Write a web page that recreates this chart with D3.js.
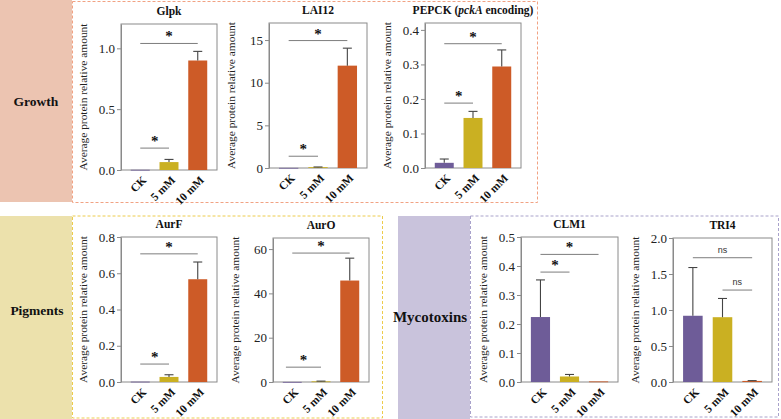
<!DOCTYPE html>
<html>
<head>
<meta charset="utf-8">
<script src="https://cdn.jsdelivr.net/npm/d3@7"></script>
<style>
  body { margin: 0; background: #fff; }
  svg { display: block; }
</style>
</head>
<body>
<div id="chart"></div>
<script>
// ---- data ----
const groups = ["CK", "5 mM", "10 mM"];
const proteins = ["Glpk", "LAI12", "PEPCK (_pckA_ encoding)", "AurF", "AurO", "CLM1", "TRI4"];
const means = [
  [0.002, 0.065, 0.9],
  [0.02, 0.1, 12.0],
  [0.015, 0.145, 0.294],
  [0.002, 0.028, 0.567],
  [0.05, 0.3, 45.8],
  [0.224, 0.019, 0.002],
  [0.92, 0.9, 0.015]
];
const errors = [
  [0, 0.022, 0.075],
  [0, 0.02, 2.05],
  [0.011, 0.019, 0.048],
  [0, 0.012, 0.095],
  [0, 0.1, 10.1],
  [0.128, 0.007, 0],
  [0.67, 0.26, 0.004]
];
const yMax = [1.2, 17, 0.42, 0.8, 65, 0.5, 2.0];
const yTicks = [
  [0, 0.5, 1.0],
  [0, 5, 10, 15],
  [0, 0.1, 0.2, 0.3, 0.4],
  [0, 0.2, 0.4, 0.6, 0.8],
  [0, 20, 40, 60],
  [0, 0.1, 0.2, 0.3, 0.4, 0.5],
  [0, 0.5, 1.0, 1.5, 2.0]
];
const tickFormats = [".1f", "d", ".1f", ".1f", "d", ".1f", ".1f"];
// [from group, to group, height, label]
const brackets = [
  [[0, 1, 0.18, "*"], [0, 2, 1.04, "*"]],
  [[0, 1, 1.38, "*"], [0, 2, 14.94, "*"]],
  [[0, 1, 0.188, "*"], [0, 2, 0.36, "*"]],
  [[0, 1, 0.099, "*"], [0, 2, 0.707, "*"]],
  [[-0.22, 1, 6.7, "*"], [0, 2, 58.2, "*"]],
  [[0, 1, 0.379, "*"], [0, 2, 0.44, "*"]],
  [[0, 2, 1.726, "ns"], [1, 2, 1.277, "ns"]]
];
const sections = ["Growth", "Pigments", "Mycotoxins"];

// ---- layout ----
const width = 781, height = 419;
const colors = ["#6e5c98", "#cab022", "#cd5b27"];
const serif = "'Liberation Serif', 'Times New Roman', serif";

const panels = [
  { l: 121, r: 217, t: 24, b: 170 },
  { l: 269, r: 367, t: 23, b: 168 },
  { l: 425, r: 521, t: 23, b: 168 },
  { l: 121, r: 217, t: 237, b: 382 },
  { l: 273, r: 369, t: 238, b: 382 },
  { l: 521, r: 618, t: 237, b: 382 },
  { l: 673, r: 772, t: 238, b: 382 }
];

const boxes = [
  { x: 0, y: 0, w: 72, h: 202, bx: 72, by: 1.5, bw: 465, bh: 201, fill: "#ecc4b1", stroke: "#f1a283", tx: 36, ty: 106, fs: 13.5 },
  { x: 0, y: 216, w: 72, h: 203, bx: 72, by: 216, bw: 310, bh: 202, fill: "#ece1ac", stroke: "#edcc4c", tx: 37, ty: 315, fs: 13.5 },
  { x: 398, y: 216, w: 72, h: 203, bx: 470, by: 216, bw: 308, bh: 201, fill: "#c9c3dc", stroke: "#a9a2cb", tx: 430, ty: 322, fs: 15 }
];

const svg = d3.select("#chart").append("svg")
  .attr("width", width)
  .attr("height", height)
  .attr("viewBox", [0, 0, width, height])
  .style("font-family", serif);

// section boxes
boxes.forEach((b, i) => {
  svg.append("rect")
    .attr("x", b.x).attr("y", b.y)
    .attr("width", b.w).attr("height", b.h)
    .attr("fill", b.fill);
  svg.append("rect")
    .attr("x", b.bx + 0.5).attr("y", b.by)
    .attr("width", b.bw).attr("height", b.bh)
    .attr("fill", "none")
    .attr("stroke", b.stroke)
    .attr("stroke-width", 1)
    .attr("stroke-dasharray", "3,2");
  svg.append("text")
    .attr("x", b.tx).attr("y", b.ty)
    .attr("text-anchor", "middle")
    .attr("font-weight", "bold")
    .attr("font-size", b.fs)
    .attr("fill", "#111")
    .text(sections[i]);
});

// one bar panel per protein
proteins.forEach((name, i) => {
  const p = panels[i];
  const g = svg.append("g");

  const x = d3.scaleBand().domain(d3.range(groups.length)).range([p.l, p.r]).padding(0.34);
  const y = d3.scaleLinear().domain([0, yMax[i]]).range([p.b, p.t]);
  // centre of a group, fractional positions allowed
  const xi = v => x(0) + x.bandwidth() / 2 + v * x.step();

  // frame
  g.append("rect")
    .attr("x", p.l).attr("y", p.t)
    .attr("width", p.r - p.l).attr("height", p.b - p.t)
    .attr("fill", "none")
    .attr("stroke", "#8a8a8a")
    .attr("stroke-width", 1);

  // y axis
  const fmt = d3.format(tickFormats[i]);
  g.append("g")
    .attr("transform", `translate(${p.l},0)`)
    .call(d3.axisLeft(y).tickValues(yTicks[i]).tickFormat(fmt).tickSize(4).tickPadding(2).tickSizeOuter(0))
    .call(a => a.select(".domain").attr("stroke", "#8a8a8a"))
    .call(a => a.selectAll(".tick line").attr("stroke", "#8a8a8a"))
    .call(a => a.selectAll(".tick text")
      .attr("font-family", serif)
      .attr("font-size", 13)
      .attr("fill", "#222"));

  // y label
  g.append("text")
    .attr("transform", `translate(${p.l - 38},${(p.t + p.b) / 2}) rotate(-90)`)
    .attr("text-anchor", "middle")
    .attr("dy", "0.32em")
    .attr("font-size", 11.4)
    .attr("fill", "#222")
    .text("Average protein relative amount");

  // title, with italic part between underscores
  const title = g.append("text")
    .attr("x", (p.l + p.r) / 2)
    .attr("y", p.t - 9)
    .attr("text-anchor", "middle")
    .attr("font-weight", "bold")
    .attr("font-size", 11.5)
    .attr("fill", "#111");
  name.split(/_/).forEach((part, k) => {
    title.append("tspan")
      .attr("font-style", k % 2 ? "italic" : "normal")
      .text(part);
  });

  // bars
  g.selectAll("rect.bar")
    .data(means[i])
    .join("rect")
    .attr("class", "bar")
    .attr("x", (d, j) => x(j))
    .attr("width", x.bandwidth())
    .attr("y", d => y(d))
    .attr("height", d => Math.max(0.8, y(0) - y(d)))
    .attr("fill", (d, j) => colors[j]);

  // error bars (upper whisker only)
  const err = means[i].map((m, j) => ({ j, m, e: errors[i][j] })).filter(d => d.e > 0);
  g.selectAll("line.err")
    .data(err)
    .join("line")
    .attr("x1", d => xi(d.j))
    .attr("x2", d => xi(d.j))
    .attr("y1", d => y(d.m))
    .attr("y2", d => y(d.m + d.e))
    .attr("stroke", "#444")
    .attr("stroke-width", 1.1);
  g.selectAll("line.cap")
    .data(err)
    .join("line")
    .attr("x1", d => xi(d.j) - 4.5)
    .attr("x2", d => xi(d.j) + 4.5)
    .attr("y1", d => y(d.m + d.e))
    .attr("y2", d => y(d.m + d.e))
    .attr("stroke", "#444")
    .attr("stroke-width", 1.1);

  // x labels
  g.selectAll("text.xl")
    .data(groups)
    .join("text")
    .attr("class", "xl")
    .attr("transform", (d, j) => `translate(${xi(j) + 4},${p.b + 8}) rotate(-45)`)
    .attr("text-anchor", "end")
    .attr("dy", "0.35em")
    .attr("font-weight", "bold")
    .attr("font-size", 11.5)
    .attr("fill", "#111")
    .text(d => d);

  // significance brackets
  brackets[i].forEach(([a, b, h, label]) => {
    g.append("line")
      .attr("x1", xi(a)).attr("x2", xi(b))
      .attr("y1", y(h)).attr("y2", y(h))
      .attr("stroke", "#7d7d7d")
      .attr("stroke-width", 1);
    if (label === "ns") {
      g.append("text")
        .attr("x", (xi(a) + xi(b)) / 2)
        .attr("y", y(h) - 5)
        .attr("text-anchor", "middle")
        .attr("font-family", "'Liberation Sans', Arial, sans-serif")
        .attr("font-size", 9)
        .attr("fill", "#333")
        .text(label);
    } else {
      g.append("text")
        .attr("x", (xi(a) + xi(b)) / 2)
        .attr("y", y(h) - 2)
        .attr("text-anchor", "middle")
        .attr("font-weight", "bold")
        .attr("font-size", 15)
        .attr("fill", "#111")
        .text(label);
    }
  });
});
</script>
</body>
</html>
